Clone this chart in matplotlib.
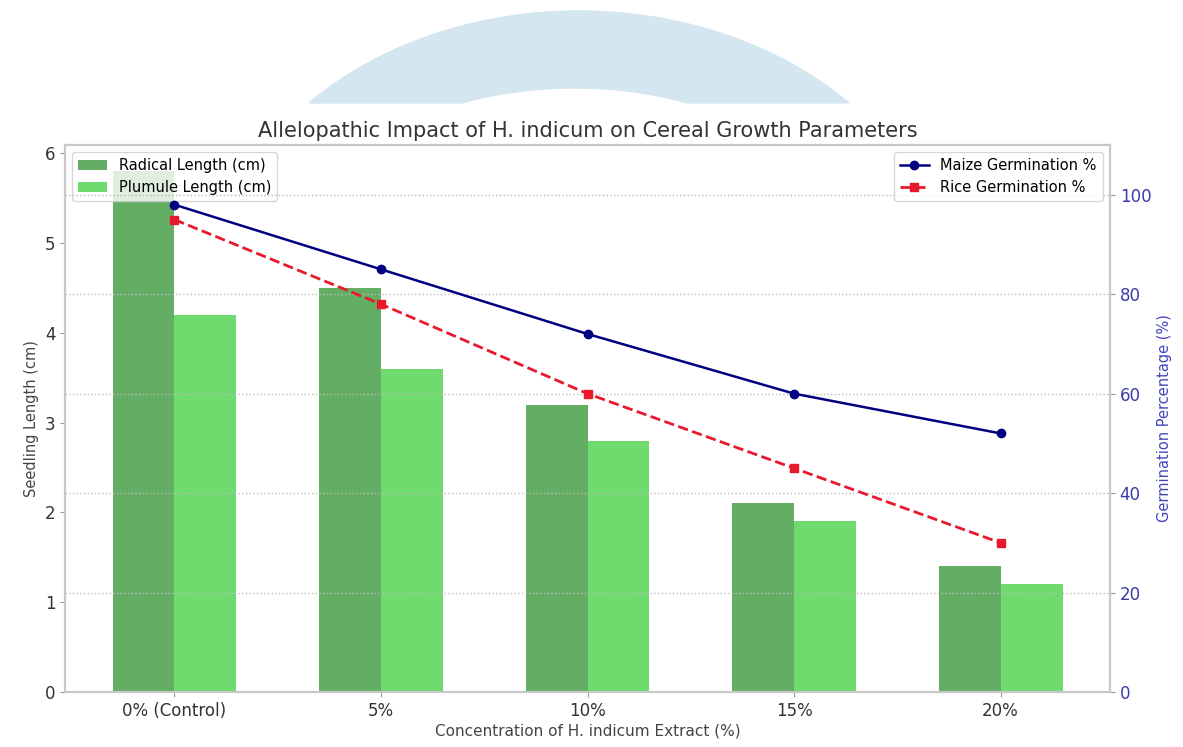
import numpy as np
import matplotlib
matplotlib.use('Agg')
from matplotlib import pyplot as plt
from matplotlib.patches import Polygon

# dados
categorias = ['0% (Control)', '5%', '10%', '15%', '20%']
radical = [5.8, 4.5, 3.2, 2.1, 1.4]
plumula = [4.2, 3.6, 2.8, 1.9, 1.2]
milho_germ = [98, 85, 72, 60, 52]
arroz_germ = [95, 78, 60, 45, 30]

plt.rcParams['font.family'] = ['DejaVu Sans']

W, H = 1183, 747
fig = plt.figure(figsize=(W / 100, H / 100), dpi=100)

# arco decorativo azul no topo (elipses em pixels, cortadas em y=103)
def meia_elipse(cx, cy, a, b, y_corte, n=200, inverter=False):
    t0 = np.arcsin((cy - y_corte) / b)
    t = np.linspace(np.pi - t0, t0, n)
    xs = cx + a * np.cos(t)
    ys = cy - b * np.sin(t)
    if inverter:
        xs, ys = xs[::-1], ys[::-1]
    return xs, ys

xe, ye = meia_elipse(579, 300, 369, 289, 103)
xi, yi = meia_elipse(575, 300, 306, 212, 103, inverter=True)
pts = np.column_stack([np.r_[xe, xi] / W, 1 - np.r_[ye, yi] / H])
arco = Polygon(pts, closed=True, color='#d4e6f0', zorder=-3, transform=fig.transFigure)
fig.patches.append(arco)

ax = fig.add_axes([65 / W, 1 - 692 / H, (1110 - 65) / W, (692 - 145) / H])
ax.patch.set_alpha(0)

x = np.arange(len(categorias))
larg = 0.3
ax.bar(x - larg / 2, radical, larg, color='forestgreen', alpha=0.7, label='Radical Length (cm)')
ax.bar(x + larg / 2, plumula, larg, color='limegreen', alpha=0.7, label='Plumule Length (cm)')
ax.set_ylim(0, 6.09)
ax.set_xticks(x)
ax.set_xticklabels(categorias, fontsize=12)
ax.set_ylabel('Seedling Length (cm)', fontsize=10.5, color='#444444')
ax.set_xlabel('Concentration of H. indicum Extract (%)', fontsize=11, color='#444444', labelpad=3)
ax.tick_params(axis='y', labelsize=12)

ax2 = ax.twinx()
ax2.plot(x, milho_germ, color='navy', marker='o', markersize=6, linewidth=1.8, label='Maize Germination %')
ax2.plot(x, arroz_germ, color='#e8192c', marker='s', markersize=6, linewidth=2, linestyle='--', label='Rice Germination %')
ax2.set_ylim(0, 110)
ax2.set_ylabel('Germination Percentage (%)', fontsize=10.5, color='#4444bb')
ax2.tick_params(axis='y', labelsize=12)
ax2.grid(axis='y', linestyle=':', color='#bbbbbb', linewidth=1)

for a in (ax, ax2):
    for s in a.spines.values():
        s.set_color('#c8c8c8')
        s.set_linewidth(1.5)
ax.tick_params(colors='#999999', labelcolor='#333333')
ax2.tick_params(colors='#999999', labelcolor='#3a3aa8')

ax.legend(loc='upper left', fontsize=10.5, framealpha=0.8)
ax2.legend(loc='upper right', fontsize=10.5, framealpha=0.8)

ax.set_title('Allelopathic Impact of H. indicum on Cereal Growth Parameters', fontsize=15, color='#333333', pad=6)

fig.savefig('out.png', dpi=100)
